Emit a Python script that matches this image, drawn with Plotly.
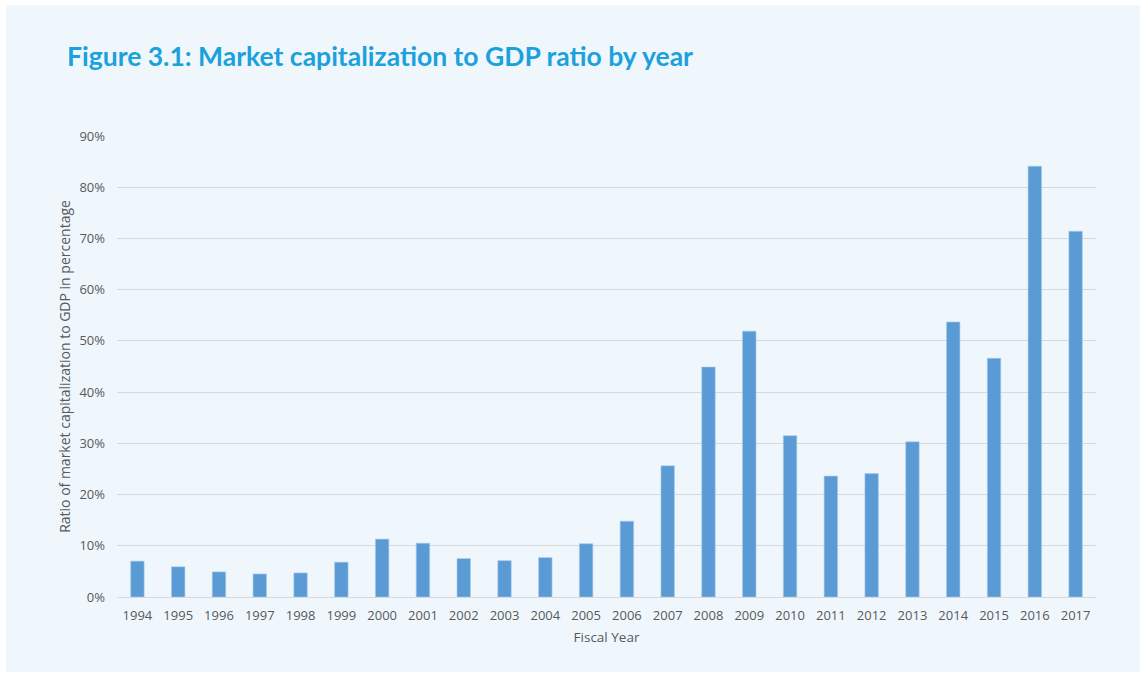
import plotly.graph_objects as go

years = [str(y) for y in range(1994, 2018)]
ratio_pct = [7.0, 5.9, 4.9, 4.5, 4.7, 6.8, 11.3, 10.5, 7.5, 7.1, 7.7, 10.4,
             14.8, 25.6, 44.9, 51.9, 31.5, 23.6, 24.1, 30.3, 53.7, 46.6, 84.1, 71.4]
y_ticks = [0, 10, 20, 30, 40, 50, 60, 70, 80, 90]
y_tick_labels = [f"{v}%" for v in y_ticks]

title_text = "Figure 3.1: Market capitalization to GDP ratio by year"
x_title = "Fiscal Year"
y_title = "Ratio of market capitalization to GDP in percentage"

W, H = 1146, 677
L, R, T, B = 117, 50, 136, 80
panel_bg = "#EFF7FD"
tick_color = "#595959"

fig = go.Figure(go.Bar(
    x=years, y=ratio_pct,
    marker=dict(color="#5B9BD5", line=dict(color="#A9CBEA", width=0.6)),
    hovertemplate="%{x}: %{y:.1f}%<extra></extra>",
))

fig.update_layout(
    width=W, height=H,
    margin=dict(l=L, r=R, t=T, b=B, autoexpand=False),
    paper_bgcolor="white",
    plot_bgcolor=panel_bg,
    bargap=0.67,
    showlegend=False,
    font=dict(family="Open Sans", color=tick_color, size=13),
    title=dict(
        text=f"<b>{title_text}</b>",
        x=67 / W, xanchor="left", xref="container",
        y=1 - 57 / H, yanchor="middle", yref="container",
        font=dict(family="Lato", size=26.5, color="#1BA1DC"),
    ),
    xaxis=dict(
        type="category",
        showgrid=False, zeroline=False, showline=False, ticks="",
        tickfont=dict(size=13, color=tick_color),
        ticklabelstandoff=9,
        title=dict(text=x_title, standoff=9, font=dict(size=13.5, color=tick_color)),
        automargin=False,
    ),
    yaxis=dict(
        range=[0, 90],
        tickvals=y_ticks, ticktext=y_tick_labels,
        showgrid=True, gridcolor="#D9D9D9", gridwidth=1,
        zeroline=True, zerolinecolor="#D9D9D9", zerolinewidth=1,
        showline=False, ticks="",
        tickfont=dict(size=13, color=tick_color),
        ticklabelstandoff=11,
        title=dict(text=y_title, standoff=5, font=dict(size=14, color=tick_color)),
        automargin=False,
    ),
    shapes=[dict(
        type="rect", xref="paper", yref="paper", layer="below",
        x0=(6 - L) / (W - L - R), x1=(1140 - L) / (W - L - R),
        y0=(H - B - 672) / (H - T - B), y1=(H - B - 5) / (H - T - B),
        fillcolor=panel_bg, line=dict(width=0),
    )],
)

fig.write_html("out.html")
